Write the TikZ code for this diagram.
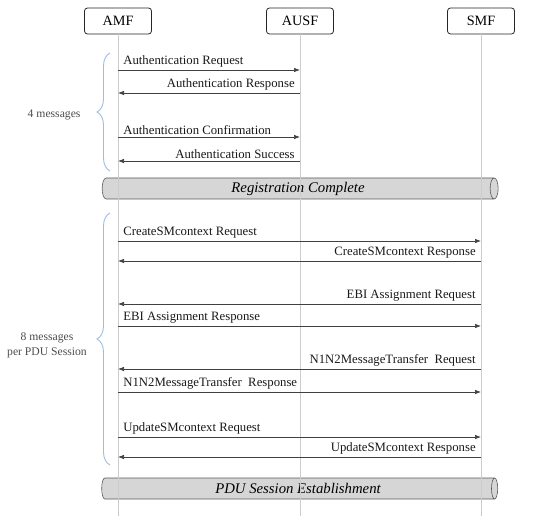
\documentclass[tikz,border=0pt]{standalone}
\usepackage{fontspec}
\setmainfont{Liberation Serif}
\usetikzlibrary{arrows.meta,positioning,shapes.geometric,decorations.pathreplacing}

\definecolor{bracecol}{RGB}{160,188,222}
\definecolor{phasefill}{RGB}{214,214,214}

\tikzset{
  entity/.style={draw=black!85, line width=0.8pt, rounded corners=3pt, minimum width=67bp, minimum height=26bp, inner sep=0pt, font=\fontsize{14.3}{16}\selectfont},
  lifeline/.style={draw=black!20, line width=0.8pt},
  msg/.style={draw=black!75, line width=0.7pt, -{Latex[length=6bp,width=4.5bp]}},
  msgtext/.style={font=\fontsize{12.8}{15}\selectfont, inner xsep=5bp, inner ysep=2.5bp, text=black!90},
  phase/.style={cylinder, draw=black!65, fill=phasefill, line width=0.6pt, shape aspect=0.6, minimum height=396bp, minimum width=21bp, inner sep=0pt, font=\fontsize{14.8}{17}\selectfont\itshape},
  brace/.style={decorate, decoration={brace, amplitude=13bp}, draw=bracecol, line width=0.9pt},
  note/.style={font=\fontsize{11.7}{15}\selectfont, text=black!70, align=center}
}

\begin{document}
\begin{tikzpicture}[x=1bp, y=-1bp]
\useasboundingbox (0,0) rectangle (550,522);

\node[entity] (amf) at (118,21) {AMF};
\node[entity] (ausf) at (300,21) {AUSF};
\node[entity] (smf) at (481,21) {SMF};

\node[phase] (reg) at (298,188.5) {Registration Complete};
\node[phase] (pdu) at (298,488.5) {PDU Session Establishment};

\coordinate (amfend) at (118,516);
\coordinate (ausfend) at (300,516);
\coordinate (smfend) at (481,516);
\draw[lifeline] (amf) -- (amfend);
\draw[lifeline] (ausf) -- (ausfend);
\draw[lifeline] (smf) -- (smfend);

\foreach \n/\y in {1/70,2/93,3/137,4/161,5/241,6/261,7/304,8/326,9/369,10/392,11/437,12/457}{
  \coordinate (amf\n) at (118,\y);
  \coordinate (ausf\n) at (300,\y);
  \coordinate (smf\n) at (481,\y);
}

% authentication
\draw[msg] (amf1) -- node[msgtext, pos=0, above right] {Authentication Request} (ausf1);
\draw[msg] (ausf2) -- node[msgtext, pos=0, above left] {Authentication Response} (amf2);
\draw[msg] (amf3) -- node[msgtext, pos=0, above right] {Authentication Confirmation} (ausf3);
\draw[msg] (ausf4) -- node[msgtext, pos=0, above left] {Authentication Success} (amf4);

% pdu session
\draw[msg] (amf5) -- node[msgtext, pos=0, above right] {CreateSMcontext Request} (smf5);
\draw[msg] (smf6) -- node[msgtext, pos=0, above left] {CreateSMcontext Response} (amf6);
\draw[msg] (smf7) -- node[msgtext, pos=0, above left] {EBI Assignment Request} (amf7);
\draw[msg] (amf8) -- node[msgtext, pos=0, above right] {EBI Assignment Response} (smf8);
\draw[msg] (smf9) -- node[msgtext, pos=0, above left] {N1N2MessageTransfer\ \ Request} (amf9);
\draw[msg] (amf10) -- node[msgtext, pos=0, above right] {N1N2MessageTransfer\ \ Response} (smf10);
\draw[msg] (amf11) -- node[msgtext, pos=0, above right] {UpdateSMcontext Request} (smf11);
\draw[msg] (smf12) -- node[msgtext, pos=0, above left] {UpdateSMcontext Response} (amf12);

\coordinate (authtop) at (110,53);
\coordinate (authbot) at (110,171);
\coordinate (pdutop) at (110,213);
\coordinate (pdubot) at (110,465);
\draw[brace] (authbot) -- (authtop);
\draw[brace] (pdubot) -- (pdutop);

\node[note, anchor=east] (fourmsg) at (84,115) {4 messages};
\node[note] (eightmsg) at (47,345) {8 messages\\per PDU Session};
\end{tikzpicture}
\end{document}
